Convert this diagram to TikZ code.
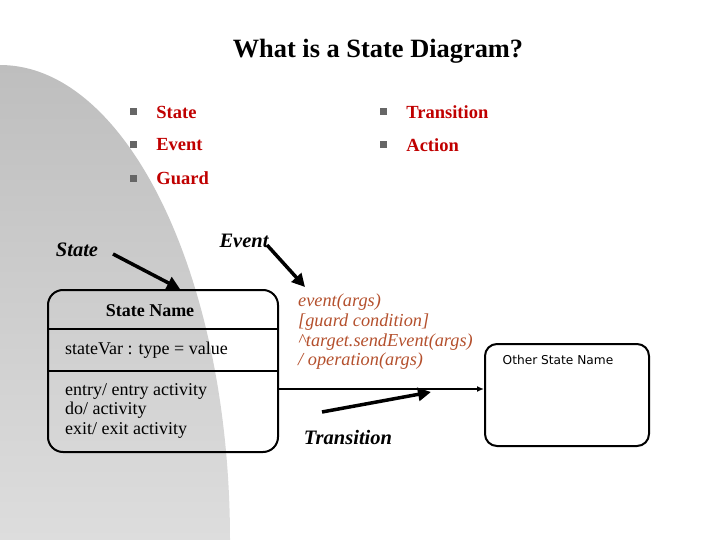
\documentclass[tikz,border=0pt]{standalone}
\usepackage{fontspec}
\setmainfont{Liberation Serif}
\newfontfamily\smallsans{DejaVu Sans}
\usetikzlibrary{arrows.meta,positioning}
\definecolor{itemred}{HTML}{C00000}
\definecolor{eventbrown}{HTML}{B4502D}
\definecolor{bulletgray}{HTML}{666666}
\definecolor{shadetop}{HTML}{BEBEBE}
\definecolor{shadebottom}{HTML}{DDDDDD}
\newcommand{\fsz}[2]{\fontsize{#1}{#2}\selectfont}

\begin{document}
\begin{tikzpicture}[x=1pt,y=-1pt,every node/.style={inner sep=0pt}]
\tikzstyle{bullet}=[fill=bulletgray,minimum size=7pt]
\tikzstyle{item}=[text=itemred,font=\fsz{18.5}{20}\bfseries]
\tikzstyle{label}=[font=\fsz{20.5}{22}\bfseries\itshape]
\tikzstyle{statebox}=[draw,line width=2pt,rounded corners=15pt]
\tikzstyle{arrow}=[draw,line width=3.5pt,-{Triangle[length=13pt,width=13pt]}]
\useasboundingbox (0,0) rectangle (720,540);

% grey backdrop
\shade[top color=shadetop,bottom color=shadebottom]
  (0,65) arc[start angle=-90,end angle=0,x radius=230,y radius=475] -- (0,540) -- cycle;

\node[font=\fsz{26.4}{30}\bfseries](title) at (378,51){What is a State Diagram?};

\node[bullet](b1) at (133.5,112){};
\node[item,right=19pt of b1](i1){State};
\node[bullet](b2) at (133.5,145){};
\node[item,right=19pt of b2](i2){Event};
\node[bullet](b3) at (133.5,178.5){};
\node[item,right=19pt of b3](i3){Guard};
\node[bullet](b4) at (383.5,112){};
\node[item,right=19pt of b4](i4){Transition};
\node[bullet](b5) at (383.5,145){};
\node[item,right=19pt of b5](i5){Action};

% state
\node[statebox,minimum width=230pt,minimum height=162pt](st) at (163,371){};
\draw[line width=2pt](st.west |- 0,329)--(st.east |- 0,329);
\draw[line width=2pt](st.west |- 0,371)--(st.east |- 0,371);
\node[font=\fsz{18}{19}\bfseries](sname) at (150,311){State Name};
\node[anchor=west,font=\fsz{18}{19}](svar) at (65,350){stateVar : type = value};
\node[anchor=north west,align=left,font=\fsz{18}{19.5}](acts) at (65,383){entry/ entry activity\\do/ activity\\exit/ exit activity};

% other state
\node[statebox,rounded corners=12pt,minimum width=164pt,minimum height=102pt](os) at (567,395){};
\node[font=\smallsans\fsz{12.2}{14}](osname) at (558,360){Other State Name};

% transition text
\node[anchor=north west,align=left,text=eventbrown,font=\fsz{18.3}{19.7}\itshape](evtxt) at (298,294)
  {event(args)\\{}[guard condition]\\\textasciicircum target.sendEvent(args)\\/ operation(args)};

\coordinate(tr) at (st.east |- 0,389);
\draw[line width=2pt,-{Latex[length=7pt,width=6pt]}](tr)--(tr -| os.west);

% labels
\node[label](lstate) at (77,250){State};
\node[label](levent) at (244,241){Event};
\node[label](ltrans) at (348,437){Transition};

\coordinate(sa1) at (113,254);
\coordinate(sa2) at (180,289);
\path[arrow](sa1)--(sa2);
\coordinate(ea1) at (267,245);
\coordinate(ea2) at (305,287);
\path[arrow](ea1)--(ea2);
\coordinate(ta1) at (322,412);
\coordinate(ta2) at (431,392);
\path[arrow](ta1)--(ta2);
\end{tikzpicture}
\end{document}
